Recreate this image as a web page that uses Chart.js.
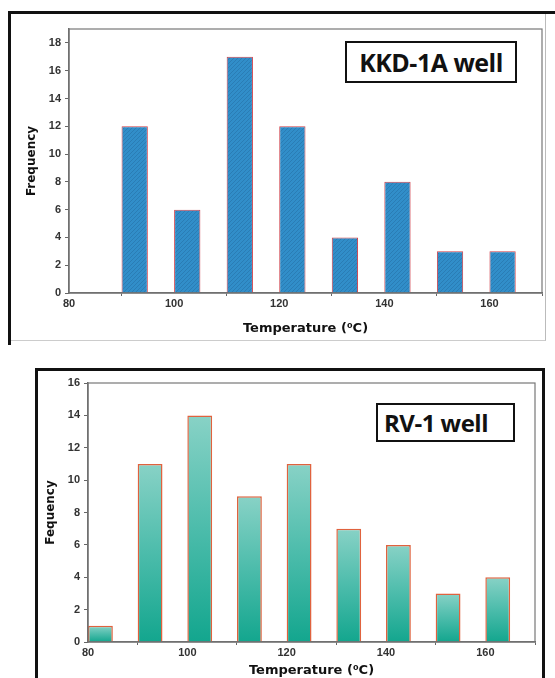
<!DOCTYPE html>
<html>
<head>
<meta charset="utf-8">
<script src="https://cdn.jsdelivr.net/npm/chart.js@4.4.0/dist/chart.umd.min.js"></script>
<style>
  body { margin: 0; background: #fff; width: 555px; height: 678px; overflow: hidden; position: relative; }
  .frame { position: absolute; box-sizing: border-box; }
  #frameTop { left: 8px; top: 11px; width: 560px; height: 334px; border-left: 3px solid #111; border-top: 3px solid #111; }
  #frameTopInner { left: 11px; top: 14px; width: 535px; height: 327px; border-right: 1px solid #bbb; border-bottom: 1px solid #ccc; }
  #frameBottom { left: 35px; top: 368px; width: 510px; height: 330px; border: 3px solid #111; }
  canvas { position: absolute; left: 0; }
  #topChart { top: 0; }
  #bottomChart { top: 340px; }
  .well { position: absolute; box-sizing: border-box; border: 2px solid #111; background: #fff;
          font-family: "Open Sans", sans-serif; font-weight: bold; color: #111;
          display: flex; align-items: center; justify-content: center; letter-spacing: -0.5px; }
  #kkdLabel { left: 345px; top: 41px; width: 172px; height: 42px; font-size: 25px; }
  #rvLabel { left: 376px; top: 403px; width: 139px; height: 39px; font-size: 24px; justify-content: flex-start; padding-left: 6px; }
</style>
</head>
<body>
<div class="frame" id="frameTop"></div>
<div class="frame" id="frameTopInner"></div>
<div class="frame" id="frameBottom"></div>
<canvas id="topChart" width="555" height="340"></canvas>
<canvas id="bottomChart" width="555" height="338"></canvas>
<div class="well" id="kkdLabel">KKD-1A well</div>
<div class="well" id="rvLabel">RV-1 well</div>
<script>
// Histogram data (bin start in °C, bin width 5 °C)
const binWidth = 5;
const kkdBins = [90, 100, 110, 120, 130, 140, 150, 160];
const kkdFreq = [12, 6, 17, 12, 4, 8, 3, 3];
const rvBins = [80, 90, 100, 110, 120, 130, 140, 150, 160];
const rvFreq = [1, 11, 14, 9, 11, 7, 6, 3, 4];

const xTicks = [80, 100, 120, 140, 160];

const tickFont = { family: '"Liberation Sans", Arial, sans-serif', size: 11, weight: 'bold' };
const xTitleFont = { family: '"DejaVu Sans", sans-serif', size: 13, weight: 'bold' };
const yTitleFont = { family: '"DejaVu Sans", sans-serif', size: 12, weight: 'bold' };

// Draw the gray box around the plot area
const plotBox = {
  id: 'plotBox',
  afterDraw(chart) {
    const a = chart.chartArea;
    const ctx = chart.ctx;
    ctx.save();
    ctx.strokeStyle = '#777';
    ctx.lineWidth = 1.2;
    ctx.strokeRect(a.left, a.top, a.right - a.left, a.bottom - a.top);
    ctx.restore();
  }
};

// Hatched blue fill for the top chart
function hatchPattern() {
  const c = document.createElement('canvas');
  c.width = 4; c.height = 4;
  const g = c.getContext('2d');
  g.fillStyle = '#318ec9';
  g.fillRect(0, 0, 4, 4);
  g.strokeStyle = '#2a7db5';
  g.lineWidth = 1;
  g.beginPath();
  g.moveTo(0, 4); g.lineTo(4, 0);
  g.stroke();
  return g.createPattern(c, 'repeat');
}

// Teal gradient, light at the top of each bar and darker at its base
function tealGradient(context) {
  const chart = context.chart;
  const a = chart.chartArea;
  if (!a || !context.raw) return '#3db8a4';
  const top = chart.scales.y.getPixelForValue(context.raw.y);
  const grad = chart.ctx.createLinearGradient(0, top, 0, a.bottom);
  grad.addColorStop(0, '#88d2c6');
  grad.addColorStop(0.5, '#4cbcab');
  grad.addColorStop(1, '#13a68e');
  return grad;
}

function makeOptions(cfg) {
  return {
    responsive: false,
    animation: false,
    layout: { padding: cfg.padding },
    plugins: { legend: { display: false }, tooltip: { enabled: false } },
    scales: {
      x: {
        type: 'linear',
        min: 80,
        max: 170,
        offset: false,
        afterBuildTicks: s => { s.ticks = xTicks.map(v => ({ value: v })); },
        afterFit: s => { s.height = cfg.xHeight; },
        border: { color: '#666', width: 1.5 },
        grid: { display: true, drawOnChartArea: false, drawTicks: true, tickLength: 3, color: '#666' },
        ticks: { color: '#333', font: tickFont, padding: 1, maxRotation: 0 },
        title: { display: true, text: 'Temperature (⁰C)', color: '#111', font: xTitleFont, padding: { top: 0, bottom: cfg.xTitlePad } }
      },
      y: {
        min: 0,
        max: cfg.yMax,
        afterBuildTicks: s => { s.ticks = cfg.yTicks.map(v => ({ value: v })); },
        afterFit: s => { s.width = cfg.yWidth; },
        border: { color: '#666', width: 1.5 },
        grid: { display: true, drawOnChartArea: false, drawTicks: true, tickLength: 4, color: '#666' },
        ticks: { color: '#333', font: tickFont, padding: 4 },
        title: { display: true, text: cfg.yTitle, color: '#111', font: yTitleFont, padding: { top: 4, bottom: 0 } }
      }
    }
  };
}

// Top chart: KKD-1A well
new Chart(document.getElementById('topChart'), {
  type: 'bar',
  data: {
    datasets: [{
      data: kkdBins.map((b, i) => ({ x: b + binWidth / 2, y: kkdFreq[i] })),
      backgroundColor: hatchPattern(),
      borderColor: '#d0404a',
      borderWidth: 1,
      barPercentage: 1,
      categoryPercentage: 0.5
    }]
  },
  options: makeOptions({
    padding: { left: 21, right: 13, top: 29, bottom: 0 },
    yWidth: 48,
    xHeight: 47,
    xTitlePad: 4,
    yMax: 19,
    yTicks: [0, 2, 4, 6, 8, 10, 12, 14, 16, 18],
    yTitle: 'Frequency'
  }),
  plugins: [plotBox]
});

// Bottom chart: RV-1 well
new Chart(document.getElementById('bottomChart'), {
  type: 'bar',
  data: {
    datasets: [{
      data: rvBins.map((b, i) => ({ x: b + binWidth / 2, y: rvFreq[i] })),
      backgroundColor: tealGradient,
      borderColor: '#e0623e',
      borderWidth: 1.5,
      barPercentage: 1,
      categoryPercentage: 0.5
    }]
  },
  options: makeOptions({
    padding: { left: 40, right: 20, top: 43, bottom: 0 },
    yWidth: 48,
    xHeight: 36,
    xTitlePad: 0,
    yMax: 16,
    yTicks: [0, 2, 4, 6, 8, 10, 12, 14, 16],
    yTitle: 'Fequency'
  }),
  plugins: [plotBox]
});
</script>
</body>
</html>
